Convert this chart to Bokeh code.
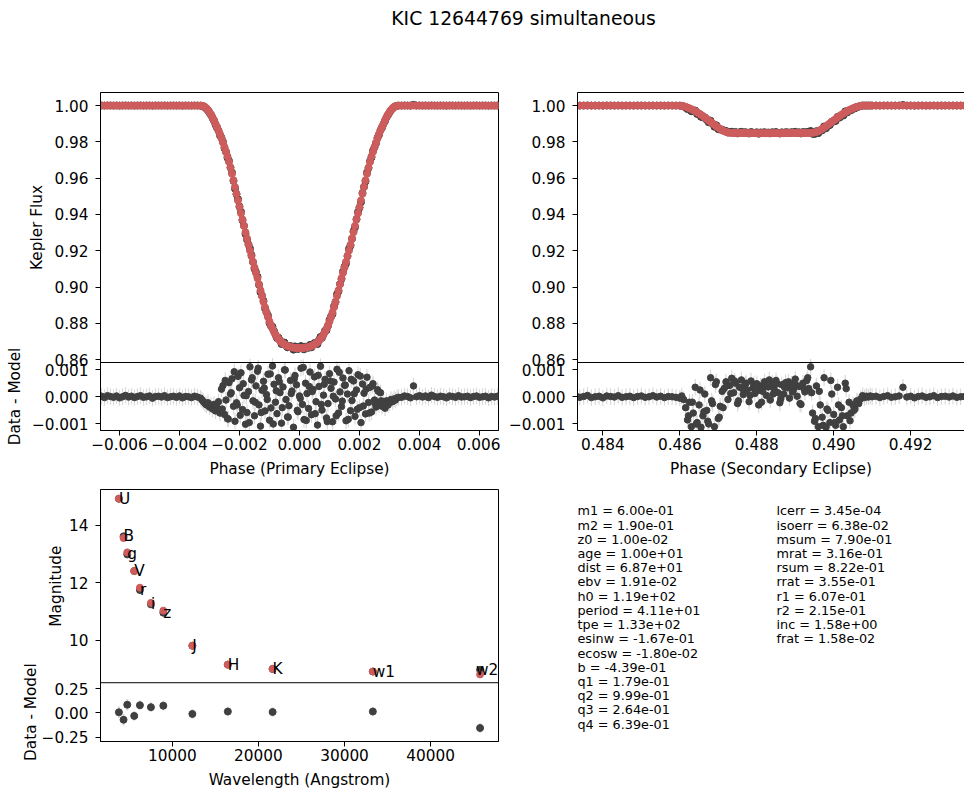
import math
import numpy as np
from bokeh.plotting import figure
from bokeh.layouts import column, row
from bokeh.models import (Range1d, FixedTicker, CustomJSTickFormatter, Span, LinearAxis,
                          ColumnDataSource)
from bokeh.embed import file_html
from bokeh.resources import INLINE
from bokeh.core.properties import value

# ---------------------------------------------------------------- data
TITLE = "KIC 12644769 simultaneous"

# Primary eclipse: phase, model flux, residual (data - model)
primary_phase = [
    -0.0066, -0.0065, -0.0064, -0.0063, -0.0062, -0.0061, -0.0060, -0.0059, -0.0058, -0.0057,
    -0.0056, -0.0055, -0.0054, -0.0053, -0.0052, -0.0051, -0.0050, -0.0049, -0.0048, -0.0047,
    -0.0046, -0.0045, -0.0044, -0.0043, -0.0042, -0.0041, -0.0040, -0.0039, -0.0038, -0.0037,
    -0.0036, -0.0035, -0.0034,
    -0.00330, -0.00325, -0.00320, -0.00315, -0.00310, -0.00305, -0.00300, -0.00295, -0.00290, -0.00285,
    -0.00280, -0.00275, -0.00270, -0.00265, -0.00260, -0.00255, -0.00250, -0.00245, -0.00240, -0.00235,
    -0.00230, -0.00225, -0.00220, -0.00215, -0.00210, -0.00205, -0.00200, -0.00195, -0.00190, -0.00185,
    -0.00180, -0.00175, -0.00170, -0.00165, -0.00160, -0.00155, -0.00150, -0.00145, -0.00140, -0.00135,
    -0.00130, -0.00125, -0.00120, -0.00115, -0.00110, -0.00105, -0.00100, -0.00095, -0.00090, -0.00085,
    -0.00080, -0.00075, -0.00070, -0.00065, -0.00060, -0.00055, -0.00050, -0.00045, -0.00040, -0.00035,
    -0.00030, -0.00025, -0.00020, -0.00015, -0.00010, -0.00005, 0.00000,
    0.00005, 0.00010, 0.00015, 0.00020, 0.00025, 0.00030, 0.00035, 0.00040, 0.00045, 0.00050,
    0.00055, 0.00060, 0.00065, 0.00070, 0.00075, 0.00080, 0.00085, 0.00090, 0.00095, 0.00100,
    0.00105, 0.00110, 0.00115, 0.00120, 0.00125, 0.00130, 0.00135, 0.00140, 0.00145, 0.00150,
    0.00155, 0.00160, 0.00165, 0.00170, 0.00175, 0.00180, 0.00185, 0.00190, 0.00195, 0.00200,
    0.00205, 0.00210, 0.00215, 0.00220, 0.00225, 0.00230, 0.00235, 0.00240, 0.00245, 0.00250,
    0.00255, 0.00260, 0.00265, 0.00270, 0.00275, 0.00280, 0.00285, 0.00290, 0.00295, 0.00300,
    0.00305, 0.00310, 0.00315, 0.00320, 0.00325, 0.00330,
    0.0034, 0.0035, 0.0036, 0.0037, 0.0038, 0.0039, 0.0040, 0.0041, 0.0042, 0.0043,
    0.0044, 0.0045, 0.0046, 0.0047, 0.0048, 0.0049, 0.0050, 0.0051, 0.0052, 0.0053,
    0.0054, 0.0055, 0.0056, 0.0057, 0.0058, 0.0059, 0.0060, 0.0061, 0.0062, 0.0063,
    0.0064, 0.0065, 0.0066,
]
primary_model_flux = [
    1.0000, 1.0000, 1.0000, 1.0000, 1.0000, 1.0000, 1.0000, 1.0000, 1.0000, 1.0000,
    1.0000, 1.0000, 1.0000, 1.0000, 1.0000, 1.0000, 1.0000, 1.0000, 1.0000, 1.0000,
    1.0000, 1.0000, 1.0000, 1.0000, 1.0000, 1.0000, 1.0000, 1.0000, 1.0000, 1.0000,
    1.0000, 1.0000, 1.0000,
    1.0000, 0.9999, 0.9997, 0.9992, 0.9985, 0.9975, 0.9964, 0.9951, 0.9936, 0.9919,
    0.9900, 0.9882, 0.9863, 0.9842, 0.9820, 0.9796, 0.9771, 0.9746, 0.9720, 0.9690,
    0.9658, 0.9624, 0.9588, 0.9551, 0.9514, 0.9477, 0.9441, 0.9406, 0.9372, 0.9337,
    0.9302, 0.9267, 0.9233, 0.9201, 0.9170, 0.9139, 0.9108, 0.9078, 0.9048, 0.9015,
    0.8982, 0.8950, 0.8918, 0.8888, 0.8860, 0.8834, 0.8810, 0.8789, 0.8770, 0.8753,
    0.8738, 0.8725, 0.8714, 0.8704, 0.8696, 0.8689, 0.8684, 0.8679, 0.8675, 0.8672,
    0.8669, 0.8667, 0.8666, 0.8665, 0.8664, 0.8664, 0.8663,
    0.8664, 0.8664, 0.8665, 0.8666, 0.8667, 0.8669, 0.8672, 0.8675, 0.8679, 0.8684,
    0.8689, 0.8696, 0.8704, 0.8714, 0.8725, 0.8738, 0.8753, 0.8770, 0.8789, 0.8810,
    0.8834, 0.8860, 0.8888, 0.8918, 0.8950, 0.8982, 0.9015, 0.9048, 0.9078, 0.9108,
    0.9139, 0.9170, 0.9201, 0.9233, 0.9267, 0.9302, 0.9337, 0.9372, 0.9406, 0.9441,
    0.9477, 0.9514, 0.9551, 0.9588, 0.9624, 0.9658, 0.9690, 0.9720, 0.9746, 0.9771,
    0.9796, 0.9820, 0.9842, 0.9863, 0.9882, 0.9900, 0.9919, 0.9936, 0.9951, 0.9964,
    0.9975, 0.9985, 0.9992, 0.9997, 0.9999, 1.0000,
    1.0000, 1.0000, 1.0000, 1.0000, 1.0000, 1.0000, 1.0000, 1.0000, 1.0000, 1.0000,
    1.0000, 1.0000, 1.0000, 1.0000, 1.0000, 1.0000, 1.0000, 1.0000, 1.0000, 1.0000,
    1.0000, 1.0000, 1.0000, 1.0000, 1.0000, 1.0000, 1.0000, 1.0000, 1.0000, 1.0000,
    1.0000, 1.0000, 1.0000,
]
primary_resid = [
    0.00002, -0.00003, 0.00004, 0.00001, -0.00002, 0.00003, -0.00004, 0.00000, 0.00005, -0.00001,
    0.00002, -0.00003, 0.00001, 0.00004, -0.00002, 0.00000, 0.00003, -0.00005, 0.00001, 0.00002,
    -0.00001, 0.00004, -0.00003, 0.00000, 0.00002, -0.00002, 0.00003, -0.00004, 0.00001, 0.00000,
    -0.00003, 0.00002, -0.00001,
    -0.00005, -0.00012, -0.00018, -0.00025, -0.00030, -0.00022, -0.00038, -0.00031, -0.00045, -0.00028,
    -0.00052, -0.00040, -0.00018, -0.00060,
    0.00028, 0.00041, -0.00065, -0.00012, -0.00080, 0.00052, 0.00010, 0.00066, -0.00035, -0.00090,
    -0.00022, 0.00075, 0.00033, 0.00088, -0.00047, 0.00005, -0.00101, -0.00058, 0.00019, 0.00110,
    0.00062, -0.00015, -0.00070, 0.00040, 0.00094, -0.00030, -0.00108, 0.00024, 0.00057, -0.00052,
    0.00008, 0.00083, -0.00086, -0.00041, 0.00113, 0.00046, -0.00020, -0.00062, 0.00070, 0.00015,
    -0.00097, 0.00036, 0.00099, -0.00010, -0.00074, -0.00033, 0.00060, 0.00021, -0.00112, 0.00078,
    0.00044, -0.00055, 0.00003, 0.00105, -0.00028, -0.00084, 0.00050, 0.00012, -0.00043, 0.00091,
    -0.00066, 0.00027, 0.00073, -0.00018, -0.00104, 0.00038, 0.00112, -0.00049, 0.00006, 0.00064,
    -0.00078, -0.00025, 0.00085, 0.00031, -0.00092, 0.00054, -0.00008, 0.00101, -0.00060, 0.00018,
    -0.00036, 0.00069, 0.00042, -0.00088, 0.00010, 0.00096, -0.00051, -0.00014, 0.00058, -0.00072,
    0.00025, 0.00081, -0.00040, -0.00095, 0.00047, 0.00013, -0.00063, 0.00072, -0.00021, 0.00035,
    -0.00056, 0.00048, -0.00012, -0.00038, 0.00026, -0.00030, 0.00015,
    -0.00035, -0.00020, -0.00042, -0.00015, -0.00030, -0.00022, -0.00010, -0.00018, -0.00008, -0.00012,
    -0.00004, -0.00002,
    -0.00002, 0.00003, 0.00001, -0.00004, 0.00040, 0.00000, 0.00004, -0.00001, 0.00003, -0.00003,
    0.00006, 0.00001, -0.00002, 0.00002, 0.00000, -0.00004, 0.00003, 0.00001, -0.00002, 0.00004,
    -0.00001, 0.00000, 0.00002, -0.00003, 0.00001, 0.00003, -0.00002, 0.00000, 0.00002, -0.00004,
    0.00001, -0.00001, 0.00002,
]
# extra in-eclipse residuals from another cycle (interleaved phases)
primary_phase_b = [
    -0.002575, -0.002475, -0.002375, -0.002275, -0.002175, -0.002075, -0.001975, -0.001875, -0.001775, -0.001675,
    -0.001575, -0.001475, -0.001375, -0.001275, -0.001175, -0.001075, -0.000975, -0.000875, -0.000775, -0.000675,
    -0.000575, -0.000475, -0.000375, -0.000275, -0.000175, -0.000075, 0.000025, 0.000125, 0.000225, 0.000325,
    0.000425, 0.000525, 0.000625, 0.000725, 0.000825, 0.000925, 0.001025, 0.001125, 0.001225, 0.001325,
    0.001425, 0.001525, 0.001625, 0.001725, 0.001825, 0.001925, 0.002025, 0.002125, 0.002225, 0.002325,
    0.002425, 0.002525, 0.002625, 0.002725,
]
primary_resid_b = [
    -0.00045, 0.00060, -0.00082, 0.00015, 0.00092, -0.00030, -0.00068, 0.00048, 0.00004, -0.00095,
    0.00070, -0.00020, 0.00105, -0.00058, 0.00032, -0.00010, 0.00084, -0.00100, 0.00022, 0.00055,
    -0.00040, 0.00098, -0.00075, 0.00012, 0.00066, -0.00050, -0.00006, 0.00108, -0.00087, 0.00038,
    0.00019, -0.00062, 0.00079, -0.00028, 0.00046, -0.00091, 0.00058, 0.00002, -0.00070, 0.00090,
    -0.00016, 0.00043, -0.00083, 0.00064, 0.00011, -0.00046, 0.00076, -0.00034, 0.00028, -0.00060,
    0.00040, -0.00025, 0.00020, -0.00015,
]
primary_resid_err = 0.0003

# Secondary eclipse
secondary_phase = [
    0.4833, 0.4834, 0.4835, 0.4836, 0.4837, 0.4838, 0.4839, 0.4840, 0.4841, 0.4842,
    0.4843, 0.4844, 0.4845, 0.4846, 0.4847, 0.4848, 0.4849, 0.4850, 0.4851, 0.4852,
    0.4853, 0.4854, 0.4855, 0.4856, 0.4857, 0.4858, 0.4859,
    0.48600, 0.48605, 0.48610, 0.48615, 0.48620, 0.48625, 0.48630, 0.48635, 0.48640, 0.48645,
    0.48650, 0.48655, 0.48660, 0.48665, 0.48670, 0.48675, 0.48680, 0.48685, 0.48690, 0.48695,
    0.48700, 0.48705, 0.48710, 0.48715, 0.48720, 0.48725, 0.48730, 0.48735, 0.48740, 0.48745,
    0.48750, 0.48755, 0.48760, 0.48765, 0.48770, 0.48775, 0.48780, 0.48785, 0.48790, 0.48795,
    0.48800, 0.48805, 0.48810, 0.48815, 0.48820, 0.48825, 0.48830, 0.48835, 0.48840, 0.48845,
    0.48850, 0.48855, 0.48860, 0.48865, 0.48870, 0.48875, 0.48880, 0.48885, 0.48890, 0.48895,
    0.48900, 0.48905, 0.48910, 0.48915, 0.48920, 0.48925, 0.48930, 0.48935, 0.48940, 0.48945,
    0.48950, 0.48955, 0.48960, 0.48965, 0.48970, 0.48975, 0.48980, 0.48985, 0.48990, 0.48995,
    0.49000, 0.49005, 0.49010, 0.49015, 0.49020, 0.49025, 0.49030, 0.49035, 0.49040, 0.49045,
    0.49050, 0.49055, 0.49060, 0.49065, 0.49070, 0.49075, 0.49080, 0.49085, 0.49090, 0.49095,
    0.49100,
    0.4911, 0.4912, 0.4913, 0.4914, 0.4915, 0.4916, 0.4917, 0.4918, 0.4919, 0.4920,
    0.4921, 0.4922, 0.4923, 0.4924, 0.4925, 0.4926, 0.4927, 0.4928, 0.4929, 0.4930,
    0.4931, 0.4932, 0.4933, 0.4934, 0.4935,
]
secondary_model_flux = [
    1.0000, 1.0000, 1.0000, 1.0000, 1.0000, 1.0000, 1.0000, 1.0000, 1.0000, 1.0000,
    1.0000, 1.0000, 1.0000, 1.0000, 1.0000, 1.0000, 1.0000, 1.0000, 1.0000, 1.0000,
    1.0000, 1.0000, 1.0000, 1.0000, 1.0000, 1.0000, 1.0000,
    1.0000, 0.9998, 0.9996, 0.9993, 0.9989, 0.9985, 0.9980, 0.9975, 0.9969, 0.9963,
    0.9956, 0.9949, 0.9942, 0.9934, 0.9926, 0.9918, 0.9910, 0.9902, 0.9894, 0.9886,
    0.9878, 0.9871, 0.9865, 0.9859, 0.9855, 0.9852, 0.9850, 0.9849, 0.9849, 0.9849,
    0.9849, 0.9849, 0.9849, 0.9849, 0.9849, 0.9848, 0.9848, 0.9848, 0.9848, 0.9848,
    0.9848, 0.9848, 0.9848, 0.9848, 0.9848, 0.9848, 0.9848, 0.9848, 0.9848, 0.9848,
    0.9848, 0.9848, 0.9848, 0.9848, 0.9848, 0.9848, 0.9849, 0.9849, 0.9849, 0.9849,
    0.9849, 0.9849, 0.9849, 0.9849, 0.9849, 0.9849, 0.9849, 0.9849, 0.9849, 0.9850,
    0.9852, 0.9855, 0.9859, 0.9865, 0.9871, 0.9878, 0.9886, 0.9894, 0.9902, 0.9910,
    0.9918, 0.9926, 0.9934, 0.9942, 0.9949, 0.9956, 0.9963, 0.9969, 0.9975, 0.9980,
    0.9985, 0.9989, 0.9993, 0.9996, 0.9998, 1.0000, 1.0000, 1.0000, 1.0000, 1.0000,
    1.0000,
    1.0000, 1.0000, 1.0000, 1.0000, 1.0000, 1.0000, 1.0000, 1.0000, 1.0000, 1.0000,
    1.0000, 1.0000, 1.0000, 1.0000, 1.0000, 1.0000, 1.0000, 1.0000, 1.0000, 1.0000,
    1.0000, 1.0000, 1.0000, 1.0000, 1.0000,
]
secondary_resid = [
    0.00003, -0.00002, 0.00001, 0.00005, -0.00003, 0.00000, 0.00002, -0.00004, 0.00003, 0.00001,
    -0.00001, 0.00004, -0.00002, 0.00000, 0.00002, -0.00003, 0.00001, 0.00003, -0.00002, 0.00000,
    0.00004, -0.00001, 0.00002, -0.00003, 0.00001, 0.00000, -0.00002,
    -0.00005, 0.00003, -0.00010,
    -0.00040, -0.00085, -0.00020, -0.00110, -0.00060, 0.00035, -0.00095, -0.00030, -0.00112, -0.00070,
    0.00010, -0.00050, -0.00100, 0.00070, -0.00025, -0.00110, 0.00055, -0.00080, -0.00035, 0.00020,
    0.00030, 0.00055, -0.00010, 0.00042, 0.00068, 0.00015, 0.00050, -0.00025, 0.00035, 0.00062,
    0.00008, 0.00045, 0.00025, -0.00018, 0.00058, 0.00032, 0.00012, 0.00048, -0.00030, 0.00040,
    0.00020, 0.00055, 0.00005, 0.00036, -0.00012, 0.00050, 0.00028, 0.00060, 0.00015, -0.00022,
    0.00044, 0.00010, 0.00052, 0.00033, -0.00005, 0.00046, 0.00024, 0.00065, 0.00002, 0.00038,
    -0.00028, 0.00050, 0.00018, 0.00060, 0.00030, 0.00110,
    -0.00060, -0.00090, 0.00040, -0.00110, -0.00030, -0.00075, 0.00070, -0.00112, -0.00050, -0.00095,
    0.00010, -0.00065, -0.00105, 0.00035, -0.00085, -0.00040, -0.00110, 0.00050, -0.00070, -0.00020,
    -0.00060, -0.00030, -0.00045, -0.00015, -0.00025, -0.00008,
    0.00004, -0.00003, 0.00002, -0.00001, 0.00003, 0.00000,
    0.00002, -0.00003, 0.00001, 0.00004, -0.00002, 0.00000, 0.00003, 0.00035, -0.00001, 0.00002,
    -0.00004, 0.00001, 0.00003, -0.00002, 0.00000, 0.00004, -0.00003, 0.00001, 0.00002, -0.00001,
    0.00003, -0.00002, 0.00000, 0.00001, -0.00003,
]
secondary_phase_b = [
    0.486225, 0.486325, 0.486425, 0.486525, 0.486625, 0.486725, 0.486825, 0.486925, 0.487025, 0.487125,
    0.487225, 0.487325, 0.487425, 0.487525, 0.487625, 0.487725, 0.487825, 0.487925, 0.488025, 0.488125,
    0.488225, 0.488325, 0.488425, 0.488525, 0.488625, 0.488725, 0.488825, 0.488925, 0.489025, 0.489125,
    0.489225, 0.489325, 0.489425, 0.489525, 0.489625, 0.489725, 0.489825, 0.489925, 0.490025, 0.490125,
    0.490225, 0.490325, 0.490425, 0.490525, 0.490625,
]
secondary_resid_b = [
    -0.00070, -0.00020, -0.00100, 0.00025, -0.00055, -0.00090, -0.00015, 0.00045, -0.00075, -0.00040,
    0.00040, 0.00012, 0.00058, -0.00015, 0.00030, 0.00050, 0.00005, 0.00045, 0.00022, -0.00020,
    0.00038, 0.00062, 0.00010, 0.00048, -0.00008, 0.00035, 0.00055, 0.00018, 0.00042, -0.00025,
    0.00030, 0.00070, 0.00015,
    -0.00080, 0.00020, -0.00105, -0.00045, 0.00060, -0.00095, -0.00030, -0.00070, 0.00030, -0.00088,
    -0.00050, -0.00020,
]
secondary_resid_err = 0.0003

# SED
sed_band = ["U", "B", "g", "V", "r", "i", "z", "J", "H", "K", "w1", "w2"]
sed_wavelength = [3800, 4340, 4770, 5580, 6240, 7520, 8960, 12330, 16450, 21650, 33290, 45740]
sed_data_mag = [14.93, 13.62, 12.99, 12.41, 11.75, 11.25, 10.96, 9.81, 9.15, 9.00, 8.91, 8.97]
sed_model_mag = [14.93, 13.56, 13.06, 12.41, 11.83, 11.30, 11.03, 9.81, 9.15, 9.00, 8.91, 8.81]
sed_resid = [0.007, -0.07, 0.085, -0.03, 0.08, 0.06, 0.075, -0.01, 0.015, 0.01, 0.015, -0.155]
sed_resid_err = [0.06, 0.06, 0.06, 0.05, 0.05, 0.05, 0.05, 0.05, 0.05, 0.05, 0.05, 0.05]

# fit parameters
param_names_1 = ["m1", "m2", "z0", "age", "dist", "ebv", "h0", "period", "tpe",
                 "esinw", "ecosw", "b", "q1", "q2", "q3", "q4"]
param_values_1 = [0.600, 0.190, 0.0100, 10.0, 68.7, 0.0191, 119.0, 41.1, 133.0,
                  -0.167, -0.0180, -0.439, 0.179, 0.999, 0.264, 0.639]
param_names_2 = ["lcerr", "isoerr", "msum", "mrat", "rsum", "rrat", "r1", "r2", "inc", "frat"]
param_values_2 = [0.000345, 0.0638, 0.790, 0.316, 0.822, 0.355, 0.607, 0.215, 1.58, 0.0158]

# axis limits & ticks
primary_xlim = (-0.006633, 0.006633)
secondary_xlim = (0.48334, 0.49340)
flux_lim = (0.8584, 1.0072)
lc_resid_lim = (-0.00124, 0.00126)
primary_xticks = [-0.006, -0.004, -0.002, 0.0, 0.002, 0.004, 0.006]
primary_xtick_labels = ["\u22120.006", "\u22120.004", "\u22120.002", "0.000", "0.002", "0.004", "0.006"]
secondary_xticks = [0.484, 0.486, 0.488, 0.490, 0.492]
secondary_xtick_labels = ["0.484", "0.486", "0.488", "0.490", "0.492"]
flux_ticks = [0.86, 0.88, 0.90, 0.92, 0.94, 0.96, 0.98, 1.00]
flux_tick_labels = ["0.86", "0.88", "0.90", "0.92", "0.94", "0.96", "0.98", "1.00"]
lc_resid_ticks = [-0.001, 0.0, 0.001]
lc_resid_tick_labels = ["\u22120.001", "0.000", "0.001"]

sed_xlim = (1663, 47880)
sed_mag_lim = (8.52, 15.25)
sed_resid_lim = (-0.294, 0.3116)
sed_xticks = [10000, 20000, 30000, 40000]
sed_xtick_labels = ["10000", "20000", "30000", "40000"]
sed_mag_ticks = [10, 12, 14]
sed_mag_tick_labels = ["10", "12", "14"]
sed_resid_ticks = [-0.25, 0.0, 0.25]
sed_resid_tick_labels = ["\u22120.25", "0.00", "0.25"]

# ---------------------------------------------------------------- style
FONT = "DejaVu Sans"
FS = "15.3px"
RED = "#cd5c5c"
DARK = "#404040"
ERR = "#dadada"

LABEL_JS = """
for (let i = 0; i < pos.length; i++) {
    if (Math.abs(tick - pos[i]) < 1e-9) { return labs[i]; }
}
return "";
"""


def tick_fmt(pos, labs):
    return CustomJSTickFormatter(args=dict(pos=list(pos), labs=list(labs)), code=LABEL_JS)


def style_axis(ax):
    ax.axis_line_color = "black"
    ax.axis_line_width = 1
    ax.major_tick_line_color = "black"
    ax.major_tick_line_width = 1
    ax.major_tick_in = 0
    ax.major_tick_out = 5
    ax.minor_tick_line_color = None
    ax.major_label_text_font = FONT
    ax.major_label_text_font_size = FS
    ax.major_label_text_color = "black"
    ax.axis_label_text_font = FONT
    ax.axis_label_text_font_size = FS
    ax.axis_label_text_font_style = "normal"
    ax.axis_label_text_color = "black"


def add_label_axis(p, y, text, standoff):
    # an extra left axis whose single (vertical) tick label acts as a panel's y-axis title
    ax = LinearAxis(ticker=FixedTicker(ticks=[y]), formatter=tick_fmt([y], [text]),
                    axis_line_color=None, major_tick_line_color=None,
                    minor_tick_line_color=None, major_tick_in=0, major_tick_out=0,
                    minor_tick_in=0, minor_tick_out=0,
                    major_label_orientation="vertical", major_label_standoff=standoff,
                    major_label_text_font=FONT, major_label_text_font_size=FS,
                    major_label_text_color="black")
    p.add_layout(ax, "left")


def stacked_panel(width, height, borders, main_px, res_px, xlim, main_lim, res_lim,
                  xticks, xtick_labels, main_ticks, main_tick_labels,
                  res_ticks, res_tick_labels, xlabel, outline=True):
    bl, br, bt, bb = borders
    main_lo, main_hi = main_lim
    res_lo, res_hi = res_lim
    y_start = main_lo - (main_hi - main_lo) * res_px / main_px
    res_top = res_hi + (res_hi - res_lo) * main_px / res_px
    p = figure(width=width, height=height, x_range=Range1d(*xlim),
               y_range=Range1d(y_start, main_hi), toolbar_location=None,
               output_backend="svg", x_axis_label=xlabel,
               min_border_left=bl, min_border_right=br,
               min_border_top=bt, min_border_bottom=bb)
    p.extra_y_ranges = {"res": Range1d(res_lo, res_top)}
    p.xgrid.visible = False
    p.ygrid.visible = False
    p.background_fill_color = "white"
    p.border_fill_color = "white"
    p.outline_line_color = "black" if outline else None
    p.outline_line_width = 1

    def to_main(r):
        return y_start + (r - res_lo) / (res_top - res_lo) * (main_hi - y_start)

    ypos = list(main_ticks) + [to_main(r) for r in res_ticks]
    ylabs = list(main_tick_labels) + list(res_tick_labels)
    p.yaxis.ticker = FixedTicker(ticks=ypos)
    p.yaxis.formatter = tick_fmt(ypos, ylabs)
    p.xaxis.ticker = FixedTicker(ticks=list(xticks))
    p.xaxis.formatter = tick_fmt(xticks, xtick_labels)
    for ax in (p.xaxis[0], p.yaxis[0]):
        style_axis(ax)
    p.xaxis.major_label_standoff = 2
    p.xaxis.axis_label_standoff = 7
    p.yaxis.major_label_standoff = 7
    # divider between main and residual panels
    p.add_layout(Span(location=main_lo, dimension="width", line_color="black", line_width=1))
    if not outline:
        top = LinearAxis(ticker=FixedTicker(ticks=[]), axis_line_color="black",
                         major_tick_line_color=None, minor_tick_line_color=None,
                         major_tick_out=0, minor_tick_out=0, major_label_text_font_size="0px")
        p.add_layout(top, "above")
    geo = dict(main_mid=(main_lo + main_hi) / 2, res_mid=(y_start + main_lo) / 2)
    return p, geo


def light_curve(p, phase, model, resid, err, phase_b, resid_b):
    ph = np.array(phase)
    mod = np.array(model)
    res = np.array(resid)
    src = ColumnDataSource(dict(phase=ph, model=mod, data=mod + res, res=res,
                                lo=res - err, hi=res + err))
    rb = np.array(resid_b)
    src_b = ColumnDataSource(dict(phase=phase_b, res=rb, lo=rb - err, hi=rb + err))
    p.scatter("phase", "data", source=src, size=7, color=DARK)
    p.scatter("phase", "model", source=src, size=7, color=RED)
    for s in (src, src_b):
        p.segment(x0="phase", y0="lo", x1="phase", y1="hi", source=s, y_range_name="res",
                  line_color=ERR, line_width=1.2)
    for s in (src, src_b):
        p.scatter("phase", "res", source=s, y_range_name="res", size=6.5, color=DARK)


# ---------------------------------------------------------------- title
title_fig = figure(width=964, height=60, x_range=Range1d(0, 1), y_range=Range1d(0, 1),
                   toolbar_location=None, output_backend="svg", title=TITLE,
                   x_axis_location=None, y_axis_location=None,
                   min_border_left=82, min_border_right=0, min_border_top=33, min_border_bottom=0)
title_fig.title.align = "center"
title_fig.title.text_font = FONT
title_fig.title.text_font_size = "18.8px"
title_fig.title.text_font_style = "normal"
title_fig.title.text_color = "black"
title_fig.title.standoff = 10
title_fig.outline_line_color = None
title_fig.xgrid.visible = False
title_fig.ygrid.visible = False

# ---------------------------------------------------------------- primary
p1, g1 = stacked_panel(500, 420, (100, 2, 32, 50), 270, 68, primary_xlim, flux_lim, lc_resid_lim,
                       primary_xticks, primary_xtick_labels, flux_ticks, flux_tick_labels,
                       lc_resid_ticks, lc_resid_tick_labels, "Phase (Primary Eclipse)")
light_curve(p1, primary_phase, primary_model_flux, primary_resid, primary_resid_err,
            primary_phase_b, primary_resid_b)
add_label_axis(p1, g1["main_mid"], "Kepler Flux", -17)
add_label_axis(p1, g1["res_mid"], "Data - Model", 1)

# ---------------------------------------------------------------- secondary
p2, g2 = stacked_panel(464, 420, (77, 0, 32, 50), 270, 68, secondary_xlim, flux_lim, lc_resid_lim,
                       secondary_xticks, secondary_xtick_labels, flux_ticks, flux_tick_labels,
                       lc_resid_ticks, lc_resid_tick_labels, "Phase (Secondary Eclipse)",
                       outline=False)
light_curve(p2, secondary_phase, secondary_model_flux, secondary_resid, secondary_resid_err,
            secondary_phase_b, secondary_resid_b)

# ---------------------------------------------------------------- SED
p3, g3 = stacked_panel(500, 311, (100, 2, 9, 49), 194, 59, sed_xlim, sed_mag_lim, sed_resid_lim,
                       sed_xticks, sed_xtick_labels, sed_mag_ticks, sed_mag_tick_labels,
                       sed_resid_ticks, sed_resid_tick_labels, "Wavelength (Angstrom)")
sres = np.array(sed_resid)
serr = np.array(sed_resid_err)
label_shift = [0, 0, 0, 0, 0, 0, 0, 0, 0, 0, 0, -4]   # keep "w2" inside the frame
sed_src = ColumnDataSource(dict(wl=sed_wavelength, data=sed_data_mag, model=sed_model_mag,
                                band=sed_band, res=sres, lo=sres - serr, hi=sres + serr,
                                dx=label_shift))
p3.scatter("wl", "data", source=sed_src, size=7, color=DARK)
p3.scatter("wl", "model", source=sed_src, size=7, color=RED)
p3.text(x="wl", y="data", text="band", source=sed_src, x_offset="dx", text_font=value(FONT),
        text_font_size=value(FS), text_align="left", text_baseline="alphabetic",
        text_color="black")
p3.segment(x0="wl", y0="lo", x1="wl", y1="hi", source=sed_src, y_range_name="res",
           line_color=ERR, line_width=2)
p3.scatter("wl", "res", source=sed_src, y_range_name="res", size=7, color=DARK)
add_label_axis(p3, g3["main_mid"], "Magnitude", -27)
add_label_axis(p3, g3["res_mid"], "Data - Model", -2)

# ---------------------------------------------------------------- parameters text
# this panel's frame is aligned with the SED frame (same borders: top 9, bottom 49)
PW, PFRAME = 464, 253
P_LEFT, P_COLGAP, P_TOP, P_LINE = 77.0, 199.0, 21.5, 14.27
params_fig = figure(width=PW, height=311,
                    x_range=Range1d(-P_LEFT / P_COLGAP, (PW - P_LEFT) / P_COLGAP),
                    y_range=Range1d((PFRAME - P_TOP) / P_LINE, -P_TOP / P_LINE),
                    toolbar_location=None, output_backend="svg",
                    x_axis_location=None, y_axis_location=None,
                    min_border_left=0, min_border_right=0, min_border_top=9, min_border_bottom=49)
params_fig.outline_line_color = None
params_fig.xgrid.visible = False
params_fig.ygrid.visible = False
texts, cols, lines = [], [], []
for c, (names, vals) in enumerate([(param_names_1, param_values_1), (param_names_2, param_values_2)]):
    for i, (n, v) in enumerate(zip(names, vals)):
        texts.append(f"{n} = {v:.2e}")
        cols.append(c)
        lines.append(i)
params_fig.text(x="col", y="line", text="txt",
                source=ColumnDataSource(dict(col=cols, line=lines, txt=texts)),
                text_font=value(FONT), text_font_size=value("12.8px"),
                text_align="left", text_baseline="alphabetic", text_color="black")

layout = column(title_fig, row(p1, p2), row(p3, params_fig))
open("out.html", "w").write(file_html(layout, INLINE))
